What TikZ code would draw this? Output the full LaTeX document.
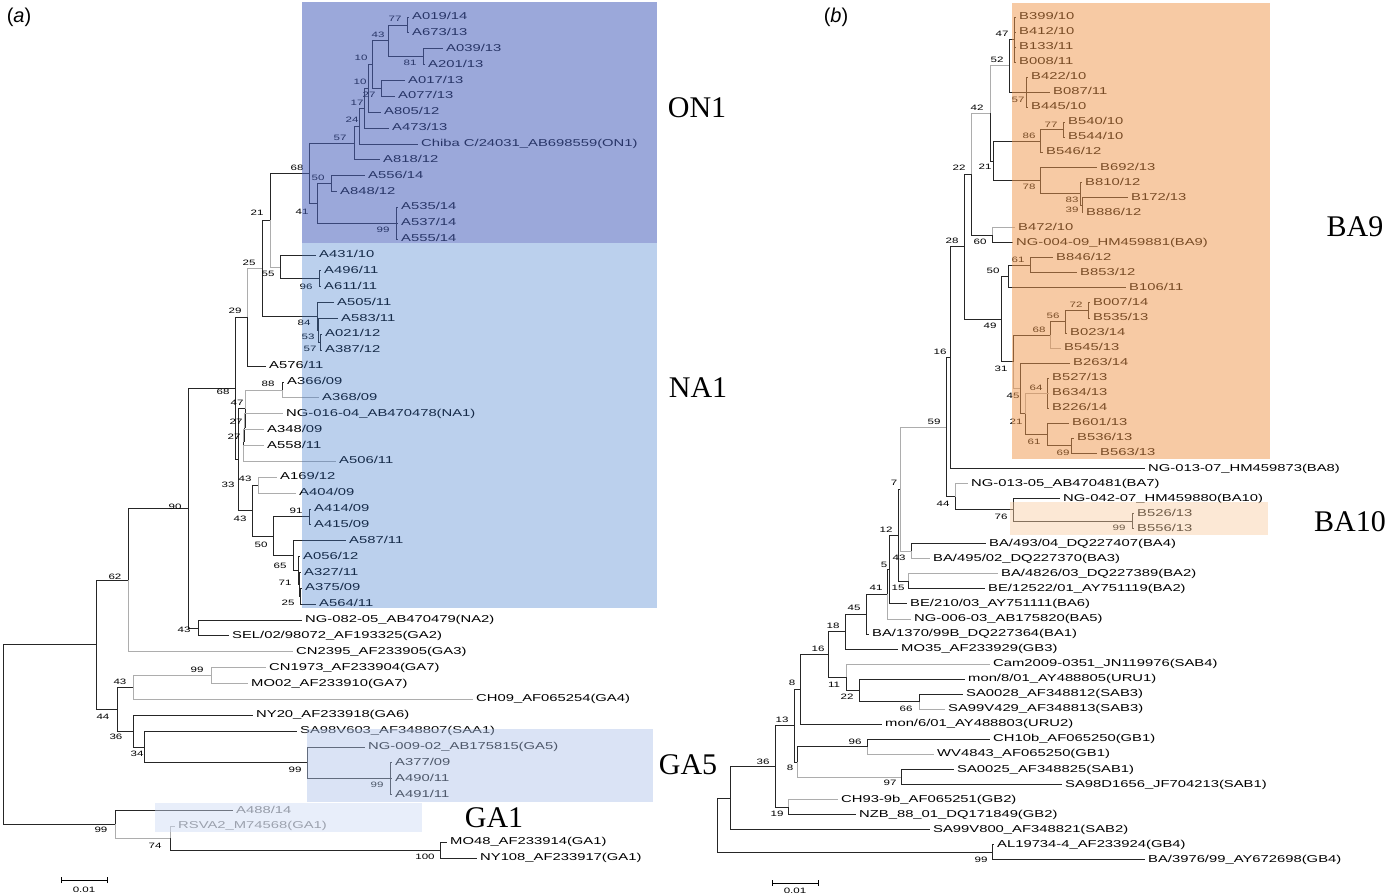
\documentclass[tikz,border=0pt]{standalone}
\usepackage{fontspec}
\setmainfont{Liberation Serif}
\newfontfamily\lsans[FakeStretch=1.48]{Liberation Sans}
\newfontfamily\psans{Liberation Sans}
\definecolor{con1}{RGB}{73,97,188}
\definecolor{cna1}{RGB}{61,121,206}
\definecolor{cga5}{RGB}{173,195,235}
\definecolor{cga1}{RGB}{206,219,246}
\definecolor{cba9}{RGB}{241,151,75}
\definecolor{cba10}{RGB}{250,206,162}
\newcommand\bsl[4]{\node[bs] (#1) at (#2,#3) {#4};}
\begin{document}
\begin{tikzpicture}[x=1pt,y=-1pt,
  leaf/.style={anchor=west, inner xsep=3pt, inner ysep=0pt, text height=7pt, text depth=2pt, font=\lsans\fontsize{10}{11}\selectfont},
  bs/.style={inner sep=0pt, font=\lsans\fontsize{7.8}{8}\selectfont},
  br/.style={line width=1pt, draw=black!85},
  gb/.style={line width=1pt, draw=black!32},
  clade/.style={inner sep=0pt, font=\fontsize{30}{32}\selectfont},
  panel/.style={inner sep=0pt, font=\psans\fontsize{20}{22}\selectfont}]
\useasboundingbox (0,0) rectangle (1400,895);
\fill[white] (0,0) rectangle (1400,895);

% ===================== LEFT TREE =====================
\coordinate (n77) at (407,25.0);
\coordinate (n81) at (423,56.7);
\coordinate (n43) at (388,40.8);
\coordinate (nAA) at (381,88.5);
\coordinate (n10a) at (372,64.6);
\coordinate (n10b) at (368,88.4);
\coordinate (n17) at (364,108.3);
\coordinate (n24) at (359,126.1);
\coordinate (n57) at (354,143.0);
\coordinate (n99) at (396,223.3);
\coordinate (n50) at (331,183.6);
\coordinate (n41) at (317,203.5);
\coordinate (n68) at (309,173.2);
\coordinate (n96) at (319,278.9);
\coordinate (n55) at (280,267.0);
\coordinate (n21) at (270,220.1);
\coordinate (n57b) at (320,342.4);
\coordinate (n53) at (318,330.4);
\coordinate (n84) at (317,316.6);
\coordinate (n25) at (262,268.4);
\coordinate (n29) at (247,317.2);
\coordinate (n88) at (282,390.0);
\coordinate (nC) at (243,453.5);
\coordinate (n27b) at (243.5,441.5);
\coordinate (n27a) at (244,427.7);
\coordinate (n47) at (245,408.8);
\coordinate (n43c) at (258,485.2);
\coordinate (n91) at (309,516.9);
\coordinate (n25c) at (300,596.3);
\coordinate (n71) at (299,584.4);
\coordinate (nB) at (298,570.5);
\coordinate (n65) at (293,555.6);
\coordinate (n50b) at (273,536.2);
\coordinate (n43b) at (252,510.7);
\coordinate (n33) at (238,459.8);
\coordinate (n68b) at (235,388.5);
\coordinate (n43d) at (198,628.0);
\coordinate (n90) at (188,508.3);
\coordinate (n62) at (128,580.0);
\coordinate (n99a) at (211,675.6);
\coordinate (n43e) at (133,687.5);
\coordinate (n99c) at (390,778.8);
\coordinate (n99b) at (307,762.9);
\coordinate (n34) at (144,747.0);
\coordinate (n36) at (133,731.2);
\coordinate (n44) at (117,709.3);
\coordinate (nTop) at (96,644.7);
\coordinate (n100) at (440,850.2);
\coordinate (n74) at (170,838.3);
\coordinate (n99d) at (115,824.4);
\coordinate (rootL) at (3,734.5);

\node[leaf] (aL0) at (409,17.0) {A019/14};
\node[leaf] (aL1) at (409,32.9) {A673/13};
\node[leaf] (aL2) at (443,48.7) {A039/13};
\node[leaf] (aL3) at (425,64.6) {A201/13};
\node[leaf] (aL4) at (405,80.5) {A017/13};
\node[leaf] (aL5) at (395,96.4) {A077/13};
\node[leaf] (aL6) at (381,112.2) {A805/12};
\node[leaf] (aL7) at (389,128.1) {A473/13};
\node[leaf] (aL8) at (418,144.0) {Chiba C/24031\_AB698559(ON1)};
\node[leaf] (aL9) at (380,159.8) {A818/12};
\node[leaf] (aL10) at (365,175.7) {A556/14};
\node[leaf] (aL11) at (337,191.6) {A848/12};
\node[leaf] (aL12) at (398,207.4) {A535/14};
\node[leaf] (aL13) at (398,223.3) {A537/14};
\node[leaf] (aL14) at (398,239.2) {A555/14};
\node[leaf] (aL15) at (316,255.1) {A431/10};
\node[leaf] (aL16) at (321,270.9) {A496/11};
\node[leaf] (aL17) at (321,286.8) {A611/11};
\node[leaf] (aL18) at (334,302.7) {A505/11};
\node[leaf] (aL19) at (338,318.5) {A583/11};
\node[leaf] (aL20) at (322,334.4) {A021/12};
\node[leaf] (aL21) at (322,350.3) {A387/12};
\node[leaf] (aL22) at (266,366.1) {A576/11};
\node[leaf] (aL23) at (284,382.0) {A366/09};
\node[leaf] (aL24) at (319,397.9) {A368/09};
\node[leaf] (aL25) at (283,413.8) {NG-016-04\_AB470478(NA1)};
\node[leaf] (aL26) at (264,429.6) {A348/09};
\node[leaf] (aL27) at (264,445.5) {A558/11};
\node[leaf] (aL28) at (336,461.4) {A506/11};
\node[leaf] (aL29) at (277,477.2) {A169/12};
\node[leaf] (aL30) at (296,493.1) {A404/09};
\node[leaf] (aL31) at (311,509.0) {A414/09};
\node[leaf] (aL32) at (311,524.8) {A415/09};
\node[leaf] (aL33) at (346,540.7) {A587/11};
\node[leaf] (aL34) at (300,556.6) {A056/12};
\node[leaf] (aL35) at (301,572.5) {A327/11};
\node[leaf] (aL36) at (302,588.3) {A375/09};
\node[leaf] (aL37) at (316,604.2) {A564/11};
\node[leaf] (aL38) at (302,620.1) {NG-082-05\_AB470479(NA2)};
\node[leaf] (aL39) at (229,635.9) {SEL/02/98072\_AF193325(GA2)};
\node[leaf] (aL40) at (293,651.8) {CN2395\_AF233905(GA3)};
\node[leaf] (aL41) at (266,667.7) {CN1973\_AF233904(GA7)};
\node[leaf] (aL42) at (248,683.5) {MO02\_AF233910(GA7)};
\node[leaf] (aL43) at (473,699.4) {CH09\_AF065254(GA4)};
\node[leaf] (aL44) at (253,715.3) {NY20\_AF233918(GA6)};
\node[leaf] (aL45) at (297,731.1) {SA98V603\_AF348807(SAA1)};
\node[leaf] (aL46) at (365,747.0) {NG-009-02\_AB175815(GA5)};
\node[leaf] (aL47) at (392,762.9) {A377/09};
\node[leaf] (aL48) at (392,778.8) {A490/11};
\node[leaf] (aL49) at (392,794.6) {A491/11};
\node[leaf,text=black!60] (aL50) at (233,810.5) {A488/14};
\node[leaf,text=black!55] (aL51) at (175,826.4) {RSVA2\_M74568(GA1)};
\node[leaf] (aL52) at (447,842.2) {MO48\_AF233914(GA1)};
\node[leaf] (aL53) at (477,858.1) {NY108\_AF233917(GA1)};

\foreach \p/\c in {n43/n77,n43/n81,n10a/n43,n10a/nAA,n10b/n10a,n17/n10b,n24/n17,n57/n24,
  n68/n57,n41/n50,n41/n99,n68/n41,n21/n68,n55/n96,n25/n21,n53/n57b,n84/n53,n25/n84,
  n47/n27a,n27a/n27b,n27b/nC,n43b/n43c,n50b/n91,n65/nB,nB/n71,n71/n25c,n50b/n65,n43b/n50b,
  n33/n47,n33/n43b,n68b/n29,n68b/n33,n90/n68b,n90/n43d,n62/n90,nTop/n62,n44/n43e,
  n34/n99b,n99b/n99c,n36/n34,n44/n36,nTop/n44,rootL/nTop,n74/n100,rootL/n99d,
  n77/aL0,n77/aL1,n81/aL2,n81/aL3,nAA/aL4,nAA/aL5,n10b/aL6,n17/aL7,n24/aL8,n57/aL9,
  n50/aL10,n50/aL11,n99/aL12,n99/aL13,n99/aL14,n55/aL15,n96/aL16,n96/aL17,n84/aL18,
  n53/aL19,n57b/aL20,n57b/aL21,n29/aL22,n88/aL23,n91/aL31,n91/aL32,n65/aL33,nB/aL34,
  n71/aL35,n25c/aL36,n25c/aL37,n43d/aL38,n43d/aL39,n36/aL44,n34/aL45,n99b/aL46,
  n99c/aL47,n99c/aL48,n99c/aL49,n99d/aL50,n100/aL52,n100/aL53}
  \draw[br] (\p) |- (\c);
\foreach \p/\c in {n29/n25,n21/n55,n47/n88,n43e/n99a,n99d/n74,n88/aL24,n27a/aL25,
  n27b/aL26,nC/aL27,nC/aL28,n43c/aL29,n43c/aL30,n62/aL40,n99a/aL41,n99a/aL42,
  n43e/aL43,n74/aL51}
  \draw[gb] (\p) |- (\c);

\bsl{b1}{395}{19}{77}
\bsl{b2}{410}{63}{81}
\bsl{b3}{378}{35}{43}
\bsl{b4}{361}{58}{10}
\bsl{b5}{360}{82}{10}
\bsl{b6}{369}{95}{27}
\bsl{b7}{357}{103}{17}
\bsl{b8}{352}{120}{24}
\bsl{b9}{340}{138}{57}
\bsl{b10}{297}{168}{68}
\bsl{b11}{318}{178}{50}
\bsl{b12}{302}{212}{41}
\bsl{b13}{383}{230}{99}
\bsl{b14}{257}{213}{21}
\bsl{b15}{268}{274}{55}
\bsl{b16}{306}{287}{96}
\bsl{b17}{249}{263}{25}
\bsl{b18}{304}{323}{84}
\bsl{b19}{308}{337}{53}
\bsl{b20}{310}{349}{57}
\bsl{b21}{235}{311}{29}
\bsl{b22}{223}{392}{68}
\bsl{b23}{268}{384}{88}
\bsl{b24}{237}{403}{47}
\bsl{b25}{236}{422}{27}
\bsl{b26}{234}{437}{27}
\bsl{b27}{245}{479}{43}
\bsl{b28}{228}{485}{33}
\bsl{b29}{240}{519}{43}
\bsl{b30}{296}{511}{91}
\bsl{b31}{261}{545}{50}
\bsl{b32}{280}{566}{65}
\bsl{b33}{285}{583}{71}
\bsl{b34}{288}{603}{25}
\bsl{b35}{175}{507}{90}
\bsl{b36}{184}{630}{43}
\bsl{b37}{115}{577}{62}
\bsl{b38}{197}{670}{99}
\bsl{b39}{120}{682}{43}
\bsl{b40}{103}{717}{44}
\bsl{b41}{116}{737}{36}
\bsl{b42}{137}{754}{34}
\bsl{b43}{295}{770}{99}
\bsl{b44}{377}{785}{99}
\bsl{b45}{101}{830}{99}
\bsl{b46}{155}{846}{74}
\bsl{b47}{425}{857}{100}

% ===================== RIGHT TREE =====================
\coordinate (n47r) at (1014,39.6);
\coordinate (n57r) at (1026,92.25);
\coordinate (n52) at (1009,65.9);
\coordinate (n77r) at (1063,129.9);
\coordinate (n86) at (1040,141.2);
\coordinate (n39) at (1082,205.1);
\coordinate (n83) at (1080,193.8);
\coordinate (n78) at (1040,180.7);
\coordinate (n21r) at (993,161.0);
\coordinate (n42) at (990,113.4);
\coordinate (n60) at (992,235.2);
\coordinate (n22r) at (971,174.3);
\coordinate (n61r) at (1030,265.3);
\coordinate (n50r) at (1008,276.6);
\coordinate (n72) at (1088,310.5);
\coordinate (n56) at (1065,321.8);
\coordinate (n68r) at (1050,335.0);
\coordinate (n64) at (1047,393.25);
\coordinate (n69) at (1071,445.9);
\coordinate (n61b) at (1047,434.6);
\coordinate (n21b) at (1025,413.9);
\coordinate (n45r) at (1020,388.5);
\coordinate (n31) at (1013,361.8);
\coordinate (n49) at (1001,319.2);
\coordinate (n28) at (964,246.7);
\coordinate (n16) at (950,357.6);
\coordinate (n99r) at (1132,521.2);
\coordinate (n76) at (1013,509.9);
\coordinate (n44r) at (955,496.7);
\coordinate (n59) at (946,427.2);
\coordinate (n43r) at (911,551.3);
\coordinate (n7) at (900,489.2);
\coordinate (n15) at (908,581.4);
\coordinate (n12) at (898,535.3);
\coordinate (n5) at (889,569.6);
\coordinate (n41r) at (887,594.3);
\coordinate (n45b) at (866,614.2);
\coordinate (n18) at (845,631.6);
\coordinate (n66) at (919,701.8);
\coordinate (n22b) at (859,690.5);
\coordinate (n11) at (846,677.3);
\coordinate (n16b) at (828,654.5);
\coordinate (n8a) at (800,689.4);
\coordinate (n96r) at (867,746.9);
\coordinate (n97) at (901,777.0);
\coordinate (n8b) at (797,762.0);
\coordinate (n13) at (794,725.7);
\coordinate (n19) at (788,807.1);
\coordinate (n36r) at (775,766.4);
\coordinate (nT) at (730,798.0);
\coordinate (n99g) at (992,852.3);
\coordinate (rootR) at (717,825.2);

\node[leaf] (bL0) at (1016,17.00) {B399/10};
\node[leaf] (bL1) at (1016,32.05) {B412/10};
\node[leaf] (bL2) at (1016,47.10) {B133/11};
\node[leaf] (bL3) at (1016,62.15) {B008/11};
\node[leaf] (bL4) at (1028,77.20) {B422/10};
\node[leaf] (bL5) at (1050,92.25) {B087/11};
\node[leaf] (bL6) at (1028,107.30) {B445/10};
\node[leaf] (bL7) at (1065,122.35) {B540/10};
\node[leaf] (bL8) at (1065,137.40) {B544/10};
\node[leaf] (bL9) at (1043,152.45) {B546/12};
\node[leaf] (bL10) at (1097,167.50) {B692/13};
\node[leaf] (bL11) at (1082,182.55) {B810/12};
\node[leaf] (bL12) at (1128,197.60) {B172/13};
\node[leaf] (bL13) at (1083,212.65) {B886/12};
\node[leaf] (bL14) at (1015,227.70) {B472/10};
\node[leaf] (bL15) at (1013,242.75) {NG-004-09\_HM459881(BA9)};
\node[leaf] (bL16) at (1053,257.80) {B846/12};
\node[leaf] (bL17) at (1077,272.85) {B853/12};
\node[leaf] (bL18) at (1126,287.90) {B106/11};
\node[leaf] (bL19) at (1090,302.95) {B007/14};
\node[leaf] (bL20) at (1090,318.00) {B535/13};
\node[leaf] (bL21) at (1067,333.05) {B023/14};
\node[leaf] (bL22) at (1061,348.10) {B545/13};
\node[leaf] (bL23) at (1070,363.15) {B263/14};
\node[leaf] (bL24) at (1049,378.20) {B527/13};
\node[leaf] (bL25) at (1049,393.25) {B634/13};
\node[leaf] (bL26) at (1049,408.30) {B226/14};
\node[leaf] (bL27) at (1069,423.35) {B601/13};
\node[leaf] (bL28) at (1074,438.40) {B536/13};
\node[leaf] (bL29) at (1097,453.45) {B563/13};
\node[leaf] (bL30) at (1145,468.50) {NG-013-07\_HM459873(BA8)};
\node[leaf] (bL31) at (968,483.55) {NG-013-05\_AB470481(BA7)};
\node[leaf] (bL32) at (1060,498.60) {NG-042-07\_HM459880(BA10)};
\node[leaf] (bL33) at (1134,513.65) {B526/13};
\node[leaf] (bL34) at (1134,528.70) {B556/13};
\node[leaf] (bL35) at (986,543.75) {BA/493/04\_DQ227407(BA4)};
\node[leaf] (bL36) at (930,558.80) {BA/495/02\_DQ227370(BA3)};
\node[leaf] (bL37) at (998,573.85) {BA/4826/03\_DQ227389(BA2)};
\node[leaf] (bL38) at (985,588.90) {BE/12522/01\_AY751119(BA2)};
\node[leaf] (bL39) at (907,603.95) {BE/210/03\_AY751111(BA6)};
\node[leaf] (bL40) at (911,619.00) {NG-006-03\_AB175820(BA5)};
\node[leaf] (bL41) at (869,634.05) {BA/1370/99B\_DQ227364(BA1)};
\node[leaf] (bL42) at (898,649.10) {MO35\_AF233929(GB3)};
\node[leaf] (bL43) at (990,664.15) {Cam2009-0351\_JN119976(SAB4)};
\node[leaf] (bL44) at (965,679.20) {mon/8/01\_AY488805(URU1)};
\node[leaf] (bL45) at (963,694.25) {SA0028\_AF348812(SAB3)};
\node[leaf] (bL46) at (945,709.30) {SA99V429\_AF348813(SAB3)};
\node[leaf] (bL47) at (882,724.35) {mon/6/01\_AY488803(URU2)};
\node[leaf] (bL48) at (990,739.40) {CH10b\_AF065250(GB1)};
\node[leaf] (bL49) at (934,754.45) {WV4843\_AF065250(GB1)};
\node[leaf] (bL50) at (954,769.50) {SA0025\_AF348825(SAB1)};
\node[leaf] (bL51) at (1062,784.55) {SA98D1656\_JF704213(SAB1)};
\node[leaf] (bL52) at (838,799.60) {CH93-9b\_AF065251(GB2)};
\node[leaf] (bL53) at (856,814.65) {NZB\_88\_01\_DQ171849(GB2)};
\node[leaf] (bL54) at (930,829.70) {SA99V800\_AF348821(SAB2)};
\node[leaf] (bL55) at (994,844.75) {AL19734-4\_AF233924(GB4)};
\node[leaf] (bL56) at (1145,859.80) {BA/3976/99\_AY672698(GB4)};

\foreach \p/\c in {n52/n47r,n52/n57r,n86/n77r,n21r/n86,n83/n39,n78/n83,n21r/n78,n42/n21r,
  n22r/n60,n28/n22r,n50r/n61r,n49/n50r,n56/n72,n68r/n56,n31/n68r,n61b/n69,n21b/n61b,
  n45r/n21b,n49/n31,n28/n49,n16/n28,n59/n16,n76/n99r,n44r/n76,n59/n44r,n12/n7,n12/n15,
  n5/n12,n41r/n5,n45b/n41r,n18/n45b,n16b/n18,n22b/n66,n11/n22b,n16b/n11,n8a/n16b,
  n13/n8a,n8b/n96r,n13/n8b,n36r/n13,n36r/n19,nT/n36r,rootR/nT,rootR/n99g,
  n47r/bL0,n47r/bL1,n47r/bL2,n47r/bL3,n57r/bL4,n57r/bL5,n57r/bL6,n77r/bL7,n77r/bL8,
  n86/bL9,n78/bL10,n83/bL11,n39/bL12,n39/bL13,n60/bL15,n61r/bL16,n61r/bL17,n50r/bL18,
  n72/bL19,n72/bL20,n56/bL21,n45r/bL23,n64/bL24,n64/bL26,n61b/bL27,n69/bL28,
  n69/bL29,n16/bL30,n76/bL32,n99r/bL33,n99r/bL34,n43r/bL35,n15/bL38,n5/bL39,
  n45b/bL41,n18/bL42,n22b/bL44,n66/bL45,n8a/bL47,n96r/bL48,n97/bL50,n97/bL51,
  n19/bL53,nT/bL54,n99g/bL55,n99g/bL56}
  \draw[br] (\p) |- (\c);
\foreach \p/\c in {n42/n52,n22r/n42,n21b/n64,n31/n45r,n7/n59,n7/n43r,n8b/n97,
  n60/bL14,n68r/bL22,n64/bL25,n44r/bL31,n43r/bL36,n15/bL37,n41r/bL40,n11/bL43,
  n66/bL46,n96r/bL49,n19/bL52}
  \draw[gb] (\p) |- (\c);

\bsl{c1}{1002}{34}{47}
\bsl{c2}{1018}{100}{57}
\bsl{c3}{997}{60}{52}
\bsl{c4}{1051}{125}{77}
\bsl{c5}{1029}{136}{86}
\bsl{c6}{1072}{200}{83}
\bsl{c7}{1072}{210}{39}
\bsl{c8}{1029}{187}{78}
\bsl{c9}{985}{167}{21}
\bsl{c10}{977}{108}{42}
\bsl{c11}{980}{242}{60}
\bsl{c12}{959}{168}{22}
\bsl{c13}{1018}{260}{61}
\bsl{c14}{993}{271}{50}
\bsl{c15}{1076}{305}{72}
\bsl{c16}{1053}{316}{56}
\bsl{c17}{1039}{330}{68}
\bsl{c18}{1036}{388}{64}
\bsl{c19}{1063}{453}{69}
\bsl{c20}{1034}{442}{61}
\bsl{c21}{1016}{422}{21}
\bsl{c22}{1013}{396}{45}
\bsl{c23}{1001}{369}{31}
\bsl{c24}{990}{326}{49}
\bsl{c25}{952}{241}{28}
\bsl{c26}{940}{352}{16}
\bsl{c27}{1119}{528}{99}
\bsl{c28}{1001}{517}{76}
\bsl{c29}{943}{504}{44}
\bsl{c30}{934}{422}{59}
\bsl{c31}{899}{558}{43}
\bsl{c32}{894}{483}{7}
\bsl{c33}{898}{588}{15}
\bsl{c34}{886}{530}{12}
\bsl{c35}{884}{565}{5}
\bsl{c36}{876}{588}{41}
\bsl{c37}{854}{608}{45}
\bsl{c38}{833}{626}{18}
\bsl{c39}{906}{709}{66}
\bsl{c40}{847}{697}{22}
\bsl{c41}{834}{685}{11}
\bsl{c42}{818}{649}{16}
\bsl{c43}{792}{683}{8}
\bsl{c44}{855}{742}{96}
\bsl{c45}{890}{783}{97}
\bsl{c46}{790}{768}{8}
\bsl{c47}{782}{720}{13}
\bsl{c48}{777}{814}{19}
\bsl{c49}{763}{762}{36}
\bsl{c50}{981}{860}{99}

% ===================== SHADED CLADES =====================
\fill[con1, fill opacity=0.55] (302,2) rectangle (657,243);
\fill[cna1, fill opacity=0.35] (302,243) rectangle (657,608);
\fill[cga5, fill opacity=0.45] (307,729) rectangle (653,802);
\fill[cga1, fill opacity=0.45] (155,803) rectangle (422,832);
\fill[cba9, fill opacity=0.5] (1012,3) rectangle (1270,459);
\fill[cba10, fill opacity=0.45] (1010,502) rectangle (1268,535);

\node[clade] (lON1) at (697,108) {ON1};
\node[clade] (lNA1) at (698,388) {NA1};
\node[clade] (lGA5) at (688,765) {GA5};
\node[clade] (lGA1) at (494,818) {GA1};
\node[clade] (lBA9) at (1355,227) {BA9};
\node[clade] (lBA10) at (1350,522) {BA10};

\node[panel] (pa) at (19,17) {(\textit{a})};
\node[panel] (pb) at (836,17) {(\textit{b})};

% scale bars
\coordinate (sa1) at (61,880); \coordinate (sa2) at (107,880);
\draw[line width=1pt] (sa1) -- (sa2);
\draw[line width=1pt] ([yshift=-3pt]sa1) -- ([yshift=3pt]sa1);
\draw[line width=1pt] ([yshift=-3pt]sa2) -- ([yshift=3pt]sa2);
\node[bs] (sla) at (84,890) {0.01};
\coordinate (sb1) at (772,883); \coordinate (sb2) at (818,883);
\draw[line width=1pt] (sb1) -- (sb2);
\draw[line width=1pt] ([yshift=-3pt]sb1) -- ([yshift=3pt]sb1);
\draw[line width=1pt] ([yshift=-3pt]sb2) -- ([yshift=3pt]sb2);
\node[bs] (slb) at (795,891) {0.01};
\end{tikzpicture}
\end{document}
